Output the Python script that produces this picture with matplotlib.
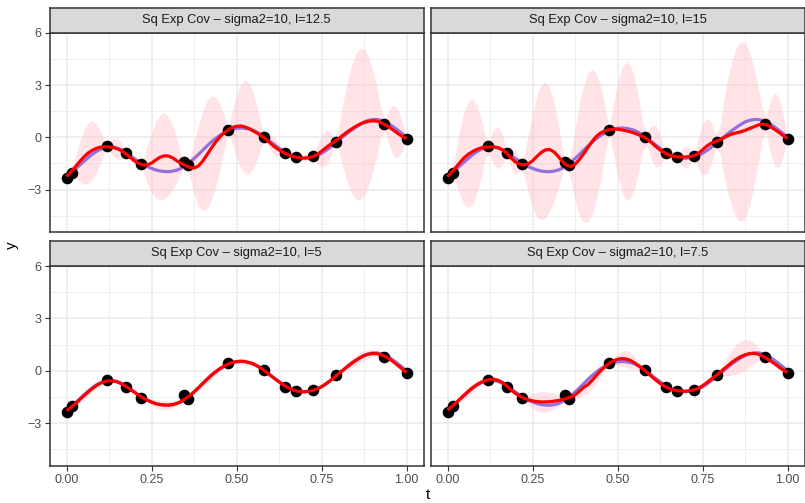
import numpy as np
import matplotlib
matplotlib.use("Agg")
import matplotlib.pyplot as plt

plt.rcParams['font.family'] = ['Liberation Sans', 'DejaVu Sans']

# observed points
t_obs = [0.0, 0.015, 0.118, 0.176, 0.22, 0.345, 0.356, 0.476, 0.581, 0.642,
         0.675, 0.725, 0.794, 0.933, 1.0]
y_obs = [-2.35, -2.03, -0.52, -0.92, -1.55, -1.41, -1.61, 0.42, 0.04, -0.90,
         -1.13, -1.09, -0.25, 0.78, -0.11]

# evaluation grid (step 0.0125)
t_grid = np.linspace(0, 1, 81)

# true function
y_true = [-2.25, -2.05, -1.85, -1.62, -1.40, -1.18, -0.98, -0.81, -0.68, -0.59,
          -0.55, -0.56, -0.62, -0.73, -0.88, -1.05, -1.22, -1.39, -1.55, -1.68,
          -1.78, -1.87, -1.93, -1.96, -1.97, -1.94, -1.88, -1.77, -1.62, -1.43,
          -1.22, -0.99, -0.75, -0.51, -0.28, -0.08, 0.10, 0.25, 0.38, 0.47,
          0.52, 0.54, 0.52, 0.47, 0.40, 0.27, 0.12, -0.06, -0.25, -0.44,
          -0.62, -0.80, -0.95, -1.07, -1.15, -1.19, -1.20, -1.17, -1.12, -1.03,
          -0.92, -0.76, -0.58, -0.38, -0.18, 0.02, 0.22, 0.41, 0.58, 0.74,
          0.88, 0.97, 1.02, 1.03, 0.98, 0.89, 0.75, 0.59, 0.40, 0.21, 0.02]

# posterior means
mean_125 = [-2.25, -2.00, -1.72, -1.42, -1.15, -0.92, -0.75, -0.63, -0.56, -0.54,
            -0.55, -0.58, -0.66, -0.78, -0.95, -1.15, -1.35, -1.50, -1.58, -1.58,
            -1.48, -1.30, -1.14, -1.06, -1.07, -1.18, -1.35, -1.50, -1.62, -1.72,
            -1.76, -1.65, -1.38, -1.02, -0.65, -0.30, 0.00, 0.25, 0.43, 0.57,
            0.63, 0.65, 0.60, 0.50, 0.36, 0.22, 0.06, -0.12, -0.34, -0.55,
            -0.72, -0.86, -0.98, -1.08, -1.14, -1.18, -1.19, -1.16, -1.10, -0.98,
            -0.80, -0.60, -0.42, -0.25, -0.08, 0.12, 0.30, 0.47, 0.62, 0.75,
            0.85, 0.92, 0.95, 0.94, 0.85, 0.72, 0.57, 0.40, 0.22, 0.05, -0.08]
mean_15 = [-2.25, -2.00, -1.72, -1.42, -1.15, -0.95, -0.80, -0.68, -0.60, -0.56,
           -0.55, -0.55, -0.60, -0.72, -0.93, -1.20, -1.42, -1.55, -1.58, -1.52,
           -1.35, -1.10, -0.88, -0.72, -0.70, -0.82, -1.08, -1.38, -1.60, -1.67,
           -1.55, -1.28, -0.95, -0.60, -0.25, 0.05, 0.25, 0.37, 0.44, 0.47,
           0.47, 0.43, 0.38, 0.32, 0.24, 0.15, 0.04, -0.10, -0.30, -0.52,
           -0.72, -0.88, -1.00, -1.08, -1.12, -1.13, -1.12, -1.10, -1.05, -0.93,
           -0.72, -0.50, -0.34, -0.25, -0.15, -0.02, 0.10, 0.20, 0.26, 0.32,
           0.40, 0.50, 0.60, 0.70, 0.76, 0.73, 0.60, 0.45, 0.28, 0.10, -0.08]
mean_5 = [-2.28, -2.10, -1.90, -1.68, -1.45, -1.23, -1.03, -0.85, -0.71, -0.61,
          -0.57, -0.58, -0.64, -0.75, -0.89, -1.06, -1.23, -1.40, -1.55, -1.68,
          -1.79, -1.88, -1.93, -1.96, -1.96, -1.93, -1.86, -1.75, -1.60, -1.42,
          -1.21, -0.98, -0.74, -0.50, -0.27, -0.07, 0.11, 0.26, 0.39, 0.48,
          0.53, 0.55, 0.53, 0.47, 0.39, 0.26, 0.11, -0.07, -0.26, -0.45,
          -0.63, -0.80, -0.95, -1.07, -1.15, -1.19, -1.20, -1.17, -1.12, -1.03,
          -0.91, -0.75, -0.57, -0.37, -0.17, 0.03, 0.23, 0.42, 0.59, 0.74,
          0.87, 0.95, 0.99, 0.98, 0.92, 0.82, 0.67, 0.50, 0.30, 0.10, -0.10]
mean_75 = [-2.25, -2.05, -1.83, -1.60, -1.37, -1.15, -0.95, -0.78, -0.64, -0.55,
           -0.50, -0.49, -0.55, -0.68, -0.88, -1.10, -1.30, -1.45, -1.57, -1.66,
           -1.72, -1.76, -1.78, -1.78, -1.77, -1.74, -1.70, -1.65, -1.58, -1.50,
           -1.38, -1.18, -0.95, -0.80, -0.55, -0.27, 0.00, 0.22, 0.42, 0.57,
           0.66, 0.70, 0.68, 0.60, 0.46, 0.29, 0.10, -0.10, -0.32, -0.53,
           -0.72, -0.88, -1.00, -1.09, -1.14, -1.16, -1.16, -1.14, -1.10, -1.00,
           -0.86, -0.68, -0.48, -0.30, -0.12, 0.10, 0.30, 0.50, 0.67, 0.81,
           0.92, 0.98, 1.00, 0.96, 0.85, 0.72, 0.57, 0.40, 0.22, 0.05, -0.10]

# half-widths of the uncertainty band
band_125 = [0, 0, 0.53, 1.10, 1.54, 1.73, 1.70, 1.40, 0.91, 0.30,
            0.23, 0.54, 0.61, 0.42, 0.03, 0.15, 0.20, 0.10, 0.33, 1.08,
            1.70, 2.20, 2.45, 2.48, 2.25, 1.83, 1.20, 0.48, 0, 0.53,
            1.49, 2.29, 2.82, 3.10, 3.01, 2.64, 1.95, 1.09, 0.09, 0.92,
            1.78, 2.40, 2.70, 2.59, 2.16, 1.40, 0.49, 0.17, 0.42, 0.50,
            0.39, 0.12, 0.07, 0.09, 0, 0.14, 0.20, 0.14, 0, 0.54,
            0.91, 0.99, 0.76, 0.29, 0.57, 1.79, 2.80, 3.63, 4.15, 4.37,
            4.24, 3.76, 2.97, 1.97, 0.79, 0.32, 1.08, 1.47, 1.38, 0.83, 0]
band_15 = [0, 0, 0.93, 1.95, 2.73, 3.07, 3.01, 2.48, 1.61, 0.53,
           0.45, 1.06, 1.21, 0.82, 0.06, 0.53, 0.71, 0.37, 0.51, 1.70,
           2.69, 3.48, 3.87, 3.91, 3.56, 2.88, 1.90, 0.75, 0, 0.73,
           2.06, 3.17, 3.90, 4.29, 4.16, 3.65, 2.70, 1.50, 0.13, 1.35,
           2.63, 3.54, 3.98, 3.82, 3.18, 2.07, 0.72, 0.40, 1.00, 1.20,
           0.92, 0.28, 0.20, 0.28, 0, 0.46, 0.65, 0.46, 0, 0.86,
           1.46, 1.58, 1.22, 0.46, 0.67, 2.12, 3.30, 4.28, 4.90, 5.16,
           5.01, 4.44, 3.51, 2.32, 0.93, 0.46, 1.56, 2.13, 2.00, 1.19, 0]
band_5 = [0, 0, 0.06, 0.13, 0.18, 0.20, 0.19, 0.16, 0.10, 0.03,
          0.02, 0.04, 0.05, 0.03, 0, 0.01, 0.02, 0.01, 0.04, 0.12,
          0.18, 0.24, 0.26, 0.27, 0.24, 0.20, 0.13, 0.05, 0, 0.04,
          0.12, 0.18, 0.22, 0.24, 0.23, 0.20, 0.15, 0.08, 0.01, 0.07,
          0.13, 0.18, 0.20, 0.19, 0.16, 0.10, 0.04, 0.01, 0.03, 0.04,
          0.03, 0.01, 0, 0, 0, 0.01, 0.02, 0.01, 0, 0.03,
          0.05, 0.06, 0.05, 0.02, 0.04, 0.12, 0.19, 0.25, 0.29, 0.30,
          0.29, 0.26, 0.20, 0.14, 0.05, 0.01, 0.04, 0.05, 0.05, 0.03, 0]
band_75 = [0, 0, 0.08, 0.18, 0.25, 0.28, 0.27, 0.22, 0.15, 0.05,
           0.04, 0.09, 0.10, 0.07, 0.01, 0.02, 0.03, 0.02, 0.08, 0.26,
           0.41, 0.53, 0.59, 0.59, 0.54, 0.44, 0.29, 0.11, 0, 0.09,
           0.24, 0.37, 0.46, 0.50, 0.49, 0.43, 0.32, 0.18, 0.02, 0.16,
           0.32, 0.43, 0.48, 0.46, 0.38, 0.25, 0.09, 0.03, 0.08, 0.10,
           0.08, 0.02, 0, 0, 0, 0.02, 0.03, 0.02, 0, 0.08,
           0.14, 0.15, 0.11, 0.04, 0.12, 0.37, 0.58, 0.75, 0.86, 0.90,
           0.87, 0.77, 0.61, 0.41, 0.16, 0.03, 0.11, 0.15, 0.14, 0.08, 0]

panels = [
    ("Sq Exp Cov \u2013 sigma2=10, l=12.5", mean_125, band_125),
    ("Sq Exp Cov \u2013 sigma2=10, l=15", mean_15, band_15),
    ("Sq Exp Cov \u2013 sigma2=10, l=5", mean_5, band_5),
    ("Sq Exp Cov \u2013 sigma2=10, l=7.5", mean_75, band_75),
]

W, H = 805, 503
fig = plt.figure(figsize=(W / 100, H / 100), dpi=100)

# panel boxes in pixels: (left, right), (top, bottom)
cols = [(49.5, 423.5), (430.5, 804.5)]
rows = [(32.5, 232.3), (265.7, 466.0)]
strip_h = 25.0

grey20 = "#333333"
grey30 = "#4D4D4D"
grid_col = "#EBEBEB"

for i, (title, mean, band) in enumerate(panels):
    r, c = divmod(i, 2)
    x0, x1 = cols[c]
    y0, y1 = rows[r]
    ax = fig.add_axes([x0 / W, 1 - y1 / H, (x1 - x0) / W, (y1 - y0) / H])
    sax = fig.add_axes([x0 / W, 1 - y0 / H, (x1 - x0) / W, strip_h / H])

    mean = np.array(mean)
    band = np.array(band)
    ax.fill_between(t_grid, mean - band, mean + band, color="#FFB6C1",
                    alpha=0.38, linewidth=0, zorder=2)
    ax.plot(t_grid, y_true, color="mediumpurple", lw=2.3, zorder=3,
            solid_capstyle="butt")
    ax.scatter(t_obs, y_obs, s=70, color="black", zorder=4, linewidths=0)
    ax.plot(t_grid, mean, color="red", lw=2.3, zorder=5, solid_capstyle="butt")

    ax.set_xlim(-0.05, 1.05)
    ax.set_ylim(-5.45, 6.02)
    ax.set_xticks([0, 0.25, 0.5, 0.75, 1.0])
    ax.set_xticks([0.125, 0.375, 0.625, 0.875], minor=True)
    ax.set_yticks([-3, 0, 3, 6])
    ax.set_yticks([-4.5, -1.5, 1.5, 4.5], minor=True)
    ax.grid(True, which="major", color=grid_col, lw=1.1, zorder=0)
    ax.grid(True, which="minor", color=grid_col, lw=0.55, zorder=0)
    ax.set_axisbelow(True)
    for sp in ax.spines.values():
        sp.set_color(grey20)
        sp.set_linewidth(1.1)
    ax.tick_params(which="minor", length=0)
    ax.tick_params(which="major", length=3.5, width=0.8, color=grey20,
                   labelsize=9, labelcolor=grey30, pad=2)
    if r == 1:
        ax.set_xticklabels(["0.00", "0.25", "0.50", "0.75", "1.00"])
    else:
        ax.tick_params(axis="x", length=0, labelbottom=False)
    if c == 0:
        ax.set_yticklabels(["\u22123", "0", "3", "6"])
    else:
        ax.tick_params(axis="y", length=0, labelleft=False)

    sax.set_facecolor("#D9D9D9")
    sax.set_xticks([])
    sax.set_yticks([])
    for sp in sax.spines.values():
        sp.set_color(grey20)
        sp.set_linewidth(1.1)
    sax.text(0.5, 0.5, title, ha="center", va="center", fontsize=9.3,
             color="#1A1A1A", transform=sax.transAxes)

fig.text(428 / W, 1 - 495 / H, "t", ha="center", va="center", fontsize=11)
fig.text(12 / W, 1 - 245 / H, "y", ha="center", va="center", fontsize=11,
         rotation=90)

fig.savefig("out.png", dpi=100, facecolor="white")
